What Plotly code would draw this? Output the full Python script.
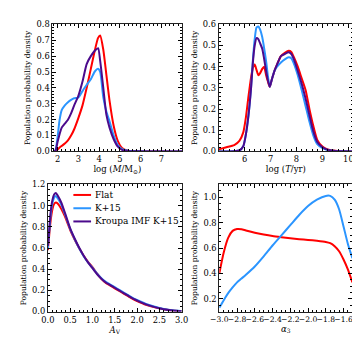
import plotly.graph_objects as go
from plotly.subplots import make_subplots

names = ['Flat', 'K+15', 'Kroupa IMF K+15']
colors = ['#ff0000', '#2b95ff', '#4b0a8c']

# mass panel, log(M/Msun)
mass_x = [1.8, 1.9, 2.0, 2.1, 2.2, 2.35, 2.5, 2.65, 2.8, 3.0, 3.2, 3.4, 3.6, 3.8, 3.95,
          4.05, 4.2, 4.35, 4.5, 4.7, 4.9, 5.1, 5.4, 5.8, 6.5, 8.0]
mass_flat = [0, 0.002, 0.012, 0.025, 0.035, 0.05, 0.07, 0.1, 0.14, 0.21, 0.29, 0.4, 0.52, 0.64, 0.715,
             0.73, 0.64, 0.48, 0.32, 0.16, 0.065, 0.022, 0.005, 0.002, 0.001, 0]
mass_k15 = [0, 0.01, 0.09, 0.2, 0.26, 0.29, 0.31, 0.325, 0.335, 0.34, 0.38, 0.42, 0.455, 0.505, 0.52,
            0.5, 0.34, 0.25, 0.19, 0.1, 0.04, 0.015, 0.004, 0.001, 0, 0]
mass_kroupa = [0, 0.005, 0.06, 0.11, 0.15, 0.175, 0.2, 0.24, 0.29, 0.35, 0.44, 0.55, 0.6, 0.635, 0.65,
               0.57, 0.4, 0.23, 0.15, 0.077, 0.03, 0.01, 0.003, 0.001, 0, 0]

# age panel, log(T/yr)
age_x = [5.0, 5.3, 5.6, 5.8, 5.95, 6.05, 6.15, 6.25, 6.32, 6.39, 6.46, 6.53, 6.6, 6.68, 6.75, 6.83,
         6.9, 6.97, 7.05, 7.15, 7.25, 7.4, 7.55, 7.7, 7.8, 7.9, 8.05, 8.2, 8.35, 8.5, 8.65, 8.8,
         9.0, 9.2, 9.5, 10.2]
age_flat = [0.01, 0.02, 0.03, 0.05, 0.09, 0.16, 0.26, 0.35, 0.395, 0.41, 0.385, 0.36, 0.37, 0.39, 0.4, 0.36,
            0.33, 0.305, 0.34, 0.38, 0.41, 0.45, 0.465, 0.475, 0.47, 0.445, 0.4, 0.345, 0.29, 0.2, 0.12, 0.055,
            0.023, 0.01, 0.003, 0]
age_k15 = [0, 0, 0.001, 0.005, 0.025, 0.08, 0.17, 0.3, 0.43, 0.53, 0.585, 0.59, 0.575, 0.54, 0.49, 0.425,
           0.355, 0.305, 0.34, 0.38, 0.4, 0.42, 0.435, 0.445, 0.44, 0.415, 0.36, 0.29, 0.215, 0.14, 0.075, 0.035,
           0.016, 0.007, 0.002, 0]
age_kroupa = [0, 0, 0.001, 0.005, 0.025, 0.08, 0.17, 0.3, 0.42, 0.5, 0.535, 0.53, 0.51, 0.485, 0.44, 0.38,
              0.335, 0.305, 0.34, 0.38, 0.41, 0.45, 0.46, 0.468, 0.46, 0.435, 0.38, 0.32, 0.25, 0.17, 0.095, 0.045,
              0.02, 0.008, 0.002, 0]

# extinction panel, A_V
av_x = [0, 0.03, 0.06, 0.1, 0.14, 0.18, 0.22, 0.3, 0.4, 0.5, 0.6, 0.7, 0.8, 0.9, 1.0, 1.1, 1.2, 1.3,
        1.4, 1.5, 1.6, 1.7, 1.8, 1.9, 2.0, 2.2, 2.4, 2.6, 2.8, 3.0]
av_flat = [0.58, 0.72, 0.85, 0.96, 1.015, 1.03, 1.02, 0.97, 0.88, 0.77, 0.68, 0.6, 0.53, 0.47, 0.42, 0.36,
           0.31, 0.27, 0.245, 0.22, 0.195, 0.17, 0.145, 0.12, 0.1, 0.065, 0.04, 0.022, 0.01, 0.003]
av_k15 = [0.6, 0.75, 0.9, 1.02, 1.075, 1.09, 1.07, 1.01, 0.9, 0.78, 0.685, 0.6, 0.525, 0.465, 0.415, 0.36,
          0.315, 0.28, 0.255, 0.23, 0.205, 0.18, 0.155, 0.13, 0.11, 0.072, 0.045, 0.025, 0.012, 0.004]
av_kroupa = [0.62, 0.77, 0.93, 1.05, 1.105, 1.12, 1.095, 1.03, 0.91, 0.785, 0.69, 0.605, 0.53, 0.465, 0.41,
             0.355, 0.31, 0.275, 0.25, 0.225, 0.2, 0.175, 0.15, 0.125, 0.105, 0.068, 0.042, 0.023, 0.011, 0.003]

# IMF slope panel, alpha_3
alpha_x = [-3.0, -2.95, -2.9, -2.85, -2.8, -2.75, -2.7, -2.6, -2.5, -2.4, -2.3, -2.2, -2.1, -2.0, -1.9,
           -1.8, -1.75, -1.7, -1.65, -1.6, -1.55, -1.5]
alpha_flat = [0.4, 0.565, 0.68, 0.735, 0.75, 0.748, 0.738, 0.72, 0.706, 0.694, 0.685, 0.677, 0.67, 0.664,
              0.657, 0.648, 0.638, 0.615, 0.575, 0.51, 0.43, 0.33]
alpha_k15 = [0.13, 0.19, 0.245, 0.29, 0.33, 0.36, 0.39, 0.455, 0.535, 0.62, 0.7, 0.78, 0.86, 0.93, 0.98,
             1.01, 1.01, 0.98, 0.905, 0.77, 0.63, 0.52]

SERIF = 'DejaVu Serif'
W, H = 360, 338

fig = make_subplots(rows=2, cols=2)


def add_lines(fig, x, ys, row, col):
    for i, y in enumerate(ys):
        fig.add_trace(go.Scatter(
            x=x, y=y, mode='lines', name=names[i],
            line=dict(color=colors[i], width=2, shape='spline', smoothing=0.6),
            showlegend=False,
        ), row=row, col=col)


add_lines(fig, mass_x, [mass_flat, mass_k15, mass_kroupa], 1, 1)
add_lines(fig, age_x, [age_flat, age_k15, age_kroupa], 1, 2)
add_lines(fig, av_x, [av_flat, av_k15, av_kroupa], 2, 1)
add_lines(fig, alpha_x, [alpha_flat, alpha_k15], 2, 2)


def dom_x(a, b):
    return [a / W, b / W]


def dom_y(top, bot):
    return [1 - bot / H, 1 - top / H]


def minor(step):
    return dict(dtick=step, ticks='inside', ticklen=2, tickcolor='black', tickwidth=0.8)


axis_style = dict(
    showline=True, linecolor='#222222', linewidth=1, mirror='ticks',
    ticks='inside', ticklen=4, tickcolor='black', tickwidth=0.8,
    showgrid=False, zeroline=False, tickangle=0,
    tickfont=dict(family=SERIF, size=8.3, color='black'),
)

ytitle = dict(text='Population probability density', font=dict(family=SERIF, size=7.5, color='black'),
              standoff=4)


def xtitle(t):
    return dict(text=t, font=dict(family=SERIF, size=8.5, color='black'), standoff=2)


fig.update_xaxes(**axis_style)
fig.update_yaxes(**axis_style)

# top left: mass
fig.update_xaxes(domain=dom_x(37, 173), range=[1.75, 8.0], tickvals=[2, 3, 4, 5, 6, 7],
                 minor=minor(0.2), title=xtitle('log (<i>M</i>/M<sub>⊙</sub>)'), row=1, col=1)
fig.update_yaxes(domain=dom_y(11.7, 142.7), range=[0, 0.8], dtick=0.1, tickformat='.1f',
                 minor=minor(0.02), title=ytitle, row=1, col=1)

# top right: age
fig.update_xaxes(domain=dom_x(211, 351.7), range=[5.0, 10.18], tickvals=[6, 7, 8, 9, 10],
                 minor=minor(0.2), title=xtitle('log (<i>T</i>/yr)'), row=1, col=2)
fig.update_yaxes(domain=dom_y(11.7, 142.7), range=[0, 0.6], dtick=0.1, tickformat='.1f',
                 minor=minor(0.02), title=ytitle, row=1, col=2)

# bottom left: extinction
fig.update_xaxes(domain=dom_x(32.3, 172.3), range=[0, 3.0], dtick=0.5, tickformat='.1f',
                 minor=minor(0.1), title=xtitle('<i>A</i><sub>V</sub>'), row=2, col=1)
fig.update_yaxes(domain=dom_y(176.7, 307.7), range=[0, 1.2], dtick=0.2, tickformat='.1f',
                 minor=minor(0.05), title=ytitle, row=2, col=1)

# bottom right: alpha_3
fig.update_xaxes(domain=dom_x(211.7, 351), range=[-3.0, -1.5], dtick=0.2, tick0=-3.0, tickformat='.1f',
                 tickfont=dict(family=SERIF, size=7.6, color='black'),
                 minor=minor(0.05), title=xtitle('<i>α</i><sub>3</sub>'), row=2, col=2)
fig.update_yaxes(domain=dom_y(176.7, 307.7), range=[0.1, 1.1], dtick=0.2, tick0=0.2, tickformat='.1f',
                 minor=minor(0.05), title=ytitle, row=2, col=2)

# legend drawn inside the A_V panel (plotly's own legend rows are too tall here)
leg_rows = [187.5, 201.2, 214.8]
for name, color, yp in zip(names, colors, leg_rows):
    fig.add_shape(type='line', xref='paper', yref='paper',
                  x0=59 / W, x1=77.5 / W, y0=1 - yp / H, y1=1 - yp / H,
                  line=dict(color=color, width=2))
    fig.add_annotation(x=80 / W, y=1 - yp / H, xref='paper', yref='paper',
                       text=name, showarrow=False, xanchor='left', yanchor='middle',
                       font=dict(family=SERIF, size=9, color='black'))

fig.update_layout(
    width=W, height=H,
    margin=dict(l=0, r=0, t=0, b=0),
    plot_bgcolor='white', paper_bgcolor='white',
    font=dict(family=SERIF, size=8, color='black'),
    showlegend=False,
)

fig.write_html("out.html")
